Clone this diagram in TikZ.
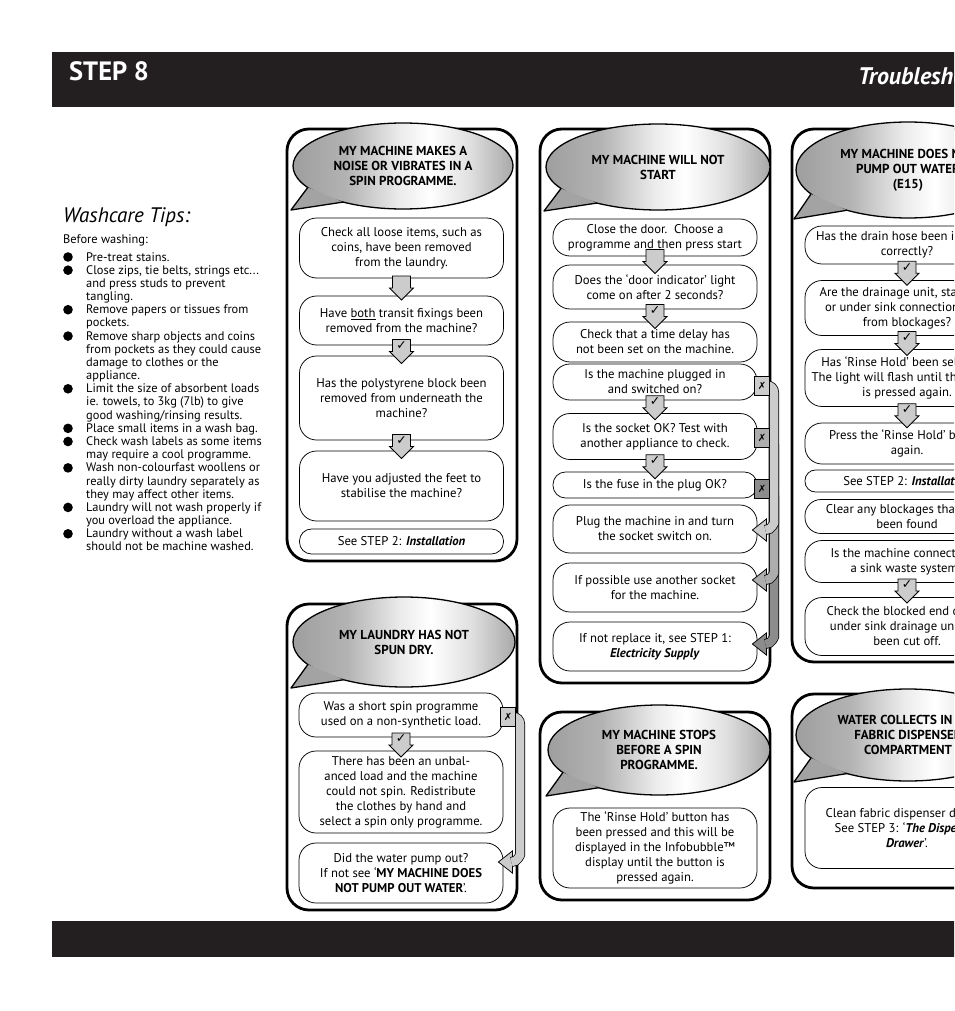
\documentclass[tikz,border=0pt]{standalone}
\usepackage{fontspec}
\setmainfont{PT Sans}
\newfontfamily\symf{DejaVu Sans}
\usetikzlibrary{calc}
\definecolor{barblack}{HTML}{231F20}
\definecolor{xlight}{gray}{0.80}
\definecolor{xmid}{gray}{0.68}
\definecolor{xdark}{gray}{0.55}
\definecolor{arrowgray}{gray}{0.80}
\definecolor{tailgray}{gray}{0.64}
\pgfdeclarehorizontalshading{bubshade}{100bp}{color(0bp)=(black!38); color(25bp)=(black!38); color(37bp)=(black!30); color(49bp)=(black!8); color(56bp)=(white); color(65bp)=(black!12); color(75bp)=(black!34); color(100bp)=(black!34)}
\tikzset{
  pframe/.style={draw=black, line width=2.8pt, rounded corners=22pt, fill=white},
  fbox/.style={draw=black, line width=0.75pt, fill=white, align=center, inner sep=0pt, minimum width=204pt, font=\fontsize{12.7}{15}\selectfont},
  bubfill/.style={shade, shading=bubshade, draw=black, line width=1.3pt},
  bubtext/.style={align=center, inner sep=0pt, font=\bfseries\fontsize{13}{15}\selectfont},
  tailfill/.style={fill=tailgray},
  tailline/.style={draw=black, line width=1.3pt, line join=round},
  arrowst/.style={draw=black, line width=0.75pt, fill=arrowgray, line join=miter},
  chk/.style={inner sep=0pt, font=\symf\fontsize{12.5}{12.5}\selectfont},
  xbx/.style={draw=black, line width=0.75pt, minimum width=15pt, minimum height=19pt, inner sep=0pt, font=\symf\fontsize{10}{10}\selectfont},
  barshaft/.style={draw=black, line width=0.75pt, double distance=8.5pt},
  barhead/.style={draw=black, line width=0.75pt, line join=miter},
  wc/.style={anchor=base west, inner sep=0pt, font=\fontsize{12.4}{13}\selectfont},
}
\newcommand\Bubble[6]{%
  \coordinate (#1c) at (#2,#3);
  \coordinate (#1t) at ($(#1c)+(-#4pt-2pt,-#5pt-1pt)$);
  \coordinate (#1a) at ($(#1c)+(-150:#4pt and #5pt)$);
  \coordinate (#1b) at ($(#1c)+(-123:#4pt and #5pt)$);
  \path[bubfill] (#1c) ellipse [x radius=#4pt, y radius=#5pt];
  \path[tailfill] (#1a) -- (#1t) -- (#1b) -- cycle;
  \draw[tailline] (#1a) -- (#1t) -- (#1b);
  \node[bubtext] (#1) at (#1c) {#6};
}
\newcommand\FBox[6]{\node[fbox, minimum height=#4pt, rounded corners=#5pt] (#1) at (#2,#3) {#6};}
\newcommand\DnArrow[4]{%
  \coordinate (#1) at ($(#2.south)!0.5!(#3.north)$);
  \draw[arrowst] ($(#1)+(-9pt,11pt)$) -- ++(18pt,0pt) -- ++(0pt,-12pt) -- ++(3pt,0pt) -- ($(#1)+(0pt,-13pt)$) -- ($(#1)+(-12pt,-1pt)$) -- ++(3pt,0pt) -- cycle;
  \ifnum#4=1 \node[chk] (#1k) at ($(#1)+(0pt,5pt)$) {✓};\fi
}
\newcommand\XMark[4]{\node[xbx, fill=#4] (#1) at (#2,#3) {✗};}
\newcommand\FlowBar[6]{%
  \coordinate (#1x) at (#5,0);
  \coordinate (#1e) at ($(#3.east)+(8pt,#4pt)$);
  \draw[barhead, fill=#6] ($(#1e)+(-13pt,0pt)$) -- ($(#1e)+(1pt,11pt)$) -- ($(#1e)+(1pt,-11pt)$) -- cycle;
  \draw[barshaft, double=#6, rounded corners=7pt] (#2.center) -| ($(#1e -| #1x)+(0pt,14pt)$) to[out=270,in=0] (#1e);
}
\begin{document}
\begin{tikzpicture}[x=1pt,y=-1pt]
\useasboundingbox (0,0) rectangle (954,1011);
\clip (0,0) rectangle (954,1011);
% header and footer bars
\fill[barblack] (52,52) rectangle (960,107);
\node[anchor=base west, text=white, inner sep=0pt, font=\bfseries\fontsize{26.5}{26.5}\selectfont] (title) at (69,81) {STEP 8};
\node[anchor=base west, text=white, inner sep=0pt, font=\bfseries\itshape\fontsize{24}{24}\selectfont] (subtitle) at (858,85) {Troubleshooting};
\fill[barblack] (52,921) rectangle (960,957);

% washcare tips
\node[anchor=base west, inner sep=0pt, font=\itshape\fontsize{21}{21}\selectfont] (wctitle) at (63,222) {Washcare Tips:};
\node[wc] (wcbefore) at (63,243) {Before washing:};
\foreach \i/\t in {0/{Pre-treat stains.},1/{Close zips, tie belts, strings etc...},2/{and press studs to prevent},3/{tangling.},4/{Remove papers or tissues from},5/{pockets.},6/{Remove sharp objects and coins},7/{from pockets as they could cause},8/{damage to clothes or the},9/{appliance.},10/{Limit the size of absorbent loads},11/{ie. towels, to 3kg (7lb) to give},12/{good washing/rinsing results.},13/{Place small items in a wash bag.},14/{Check wash labels as some items},15/{may require a cool programme.},16/{Wash non-colourfast woollens or},17/{really dirty laundry separately as},18/{they may affect other items.},19/{Laundry will not wash properly if},20/{you overload the appliance.},21/{Laundry without a wash label},22/{should not be machine washed.}}
  \node[wc] (wl\i) at (86,{261+13.18*\i}) {\t};
\foreach \i in {0,1,4,6,10,13,14,16,19,21}
  \fill (68,{261+13.18*\i-4}) circle[radius=4.8pt];

% frames
\draw[pframe] (287,129) rectangle (517,561);
\draw[pframe] (540,129) rectangle (770,683);
\draw[pframe] (792,129) rectangle (1022,662);
\draw[pframe] (287,604) rectangle (517,910);
\draw[pframe] (540,712) rectangle (770,900);
\draw[pframe] (792,694) rectangle (1022,888);

% bubbles
\Bubble{h1}{403}{166}{110}{43}{MY MACHINE MAKES A\\NOISE OR VIBRATES IN A\\SPIN PROGRAMME.}
\Bubble{h2}{658}{167}{112}{43}{MY MACHINE WILL NOT\\START}
\Bubble{h3}{908}{170}{112}{48}{MY MACHINE DOES NOT\\PUMP OUT WATER\\(E15)}
\Bubble{h4}{404}{642}{111}{45}{MY LAUNDRY HAS NOT\\SPUN DRY.}
\Bubble{h5}{659}{750}{111}{45}{MY MACHINE STOPS\\BEFORE A SPIN\\PROGRAMME.}
\Bubble{h6}{908}{735}{112}{46}{WATER COLLECTS IN THE\\FABRIC DISPENSER\\COMPARTMENT}

% panel 1
\FBox{p1b1}{401.5}{248}{60}{17}{Check all loose items, such as\\coins, have been removed\\from the laundry.}
\FBox{p1b2}{401.5}{320.5}{49}{17}{Have \underline{both} transit fixings been\\removed from the machine?}
\FBox{p1b3}{401.5}{398}{84}{17}{Has the polystyrene block been\\removed from underneath the\\machine?}
\FBox{p1b4}{401.5}{486}{70}{17}{Have you adjusted the feet to\\stabilise the machine?}
\FBox{p1b5}{401.5}{541.5}{25}{12}{See STEP 2: \textbf{\textit{Installation}}}

% panel 2
\FBox{p2b1}{655}{237.5}{37}{17}{Close the door.\ \ Choose a\\programme and then press start}
\FBox{p2b2}{655}{287}{44}{17}{Does the ‘door indicator’ light\\come on after 2 seconds?}
\FBox{p2b3}{655}{342}{40}{17}{Check that a time delay has\\not been set on the machine.}
\FBox{p2b4}{655}{382}{36}{17}{Is the machine plugged in\\and switched on?}
\FBox{p2b5}{655}{436.5}{46}{17}{Is the socket OK? Test with\\another appliance to check.}
\FBox{p2b6}{655}{485}{26}{12.5}{Is the fuse in the plug OK?}
\FBox{p2b7}{655}{529}{48}{17}{Plug the machine in and turn\\the socket switch on.}
\FBox{p2b8}{655}{587.5}{49}{17}{If possible use another socket\\for the machine.}
\FBox{p2b9}{655}{646.5}{49}{17}{If not replace it, see STEP 1:\\\textbf{\textit{Electricity Supply}}}

% panel 3
\FBox{p3b1}{907}{245}{38}{17}{Has the drain hose been installed\\correctly?}
\FBox{p3b2}{907}{308}{55}{17}{Are the drainage unit, standpipe\\or under sink connections free\\from blockages?}
\FBox{p3b3}{907}{378}{57}{17}{Has ‘Rinse Hold’ been selected?\\The light will flash until the button\\is pressed again.}
\FBox{p3b4}{907}{443.5}{41}{17}{Press the ‘Rinse Hold’ button\\again.}
\FBox{p3b5}{907}{481}{22}{10.5}{See STEP 2: \textbf{\textit{Installation}}}
\FBox{p3b6}{907}{516.5}{34}{16}{Clear any blockages that have\\been found}
\FBox{p3b7}{907}{561.5}{42}{17}{Is the machine connected to\\a sink waste system?}
\FBox{p3b8}{907}{626.5}{58}{17}{Check the blocked end on the\\under sink drainage unit has\\been cut off.}

% panel 4
\FBox{p4b1}{401}{715}{44}{17}{Was a short spin programme\\used on a non-synthetic load.}
\FBox{p4b2}{401}{792}{82}{17}{There has been an unbal-\\anced load and the machine\\could not spin. Redistribute\\the clothes by hand and\\select a spin only programme.}
\FBox{p4b3}{401}{873}{60}{17}{Did the water pump out?\\If not see ‘\textbf{MY MACHINE DOES}\\\textbf{NOT PUMP OUT WATER}’.}

% panel 5
\FBox{p5b1}{655}{848}{80}{17}{The ‘Rinse Hold’ button has\\been pressed and this will be\\displayed in the Infobubble™\\display until the button is\\pressed again.}

% panel 6
\FBox{p6b1}{907}{828}{81}{17}{Clean fabric dispenser drawer.\\See STEP 3: ‘\textbf{\textit{The Dispenser}}\\\textbf{\textit{Drawer}}’.}

% bars from the X marks to their target boxes
\path (762,385.5) coordinate (p2x1c) (762,438) coordinate (p2x2c) (762,489) coordinate (p2x3c) (508,717) coordinate (p4x1c);
\FlowBar{fb3}{p2x3c}{p2b9}{2.5}{774}{xdark}
\FlowBar{fb2}{p2x2c}{p2b8}{7.5}{774}{xmid}
\FlowBar{fb1}{p2x1c}{p2b7}{-1}{774}{xlight}
\FlowBar{fb4}{p4x1c}{p4b3}{11}{520}{xlight}
\XMark{p2x1}{762}{385.5}{xlight}
\XMark{p2x2}{762}{438}{xmid}
\XMark{p2x3}{762}{489}{xdark}
\XMark{p4x1}{508}{717}{xlight}

% down arrows
\DnArrow{a11}{p1b1}{p1b2}{0}
\DnArrow{a12}{p1b2}{p1b3}{1}
\DnArrow{a13}{p1b3}{p1b4}{1}
\DnArrow{a21}{p2b1}{p2b2}{0}
\DnArrow{a22}{p2b2}{p2b3}{1}
\DnArrow{a23}{p2b4}{p2b5}{1}
\DnArrow{a24}{p2b5}{p2b6}{1}
\DnArrow{a31}{p3b1}{p3b2}{1}
\DnArrow{a32}{p3b2}{p3b3}{1}
\DnArrow{a33}{p3b3}{p3b4}{1}
\DnArrow{a34}{p3b7}{p3b8}{1}
\DnArrow{a41}{p4b1}{p4b2}{1}
\end{tikzpicture}
\end{document}
